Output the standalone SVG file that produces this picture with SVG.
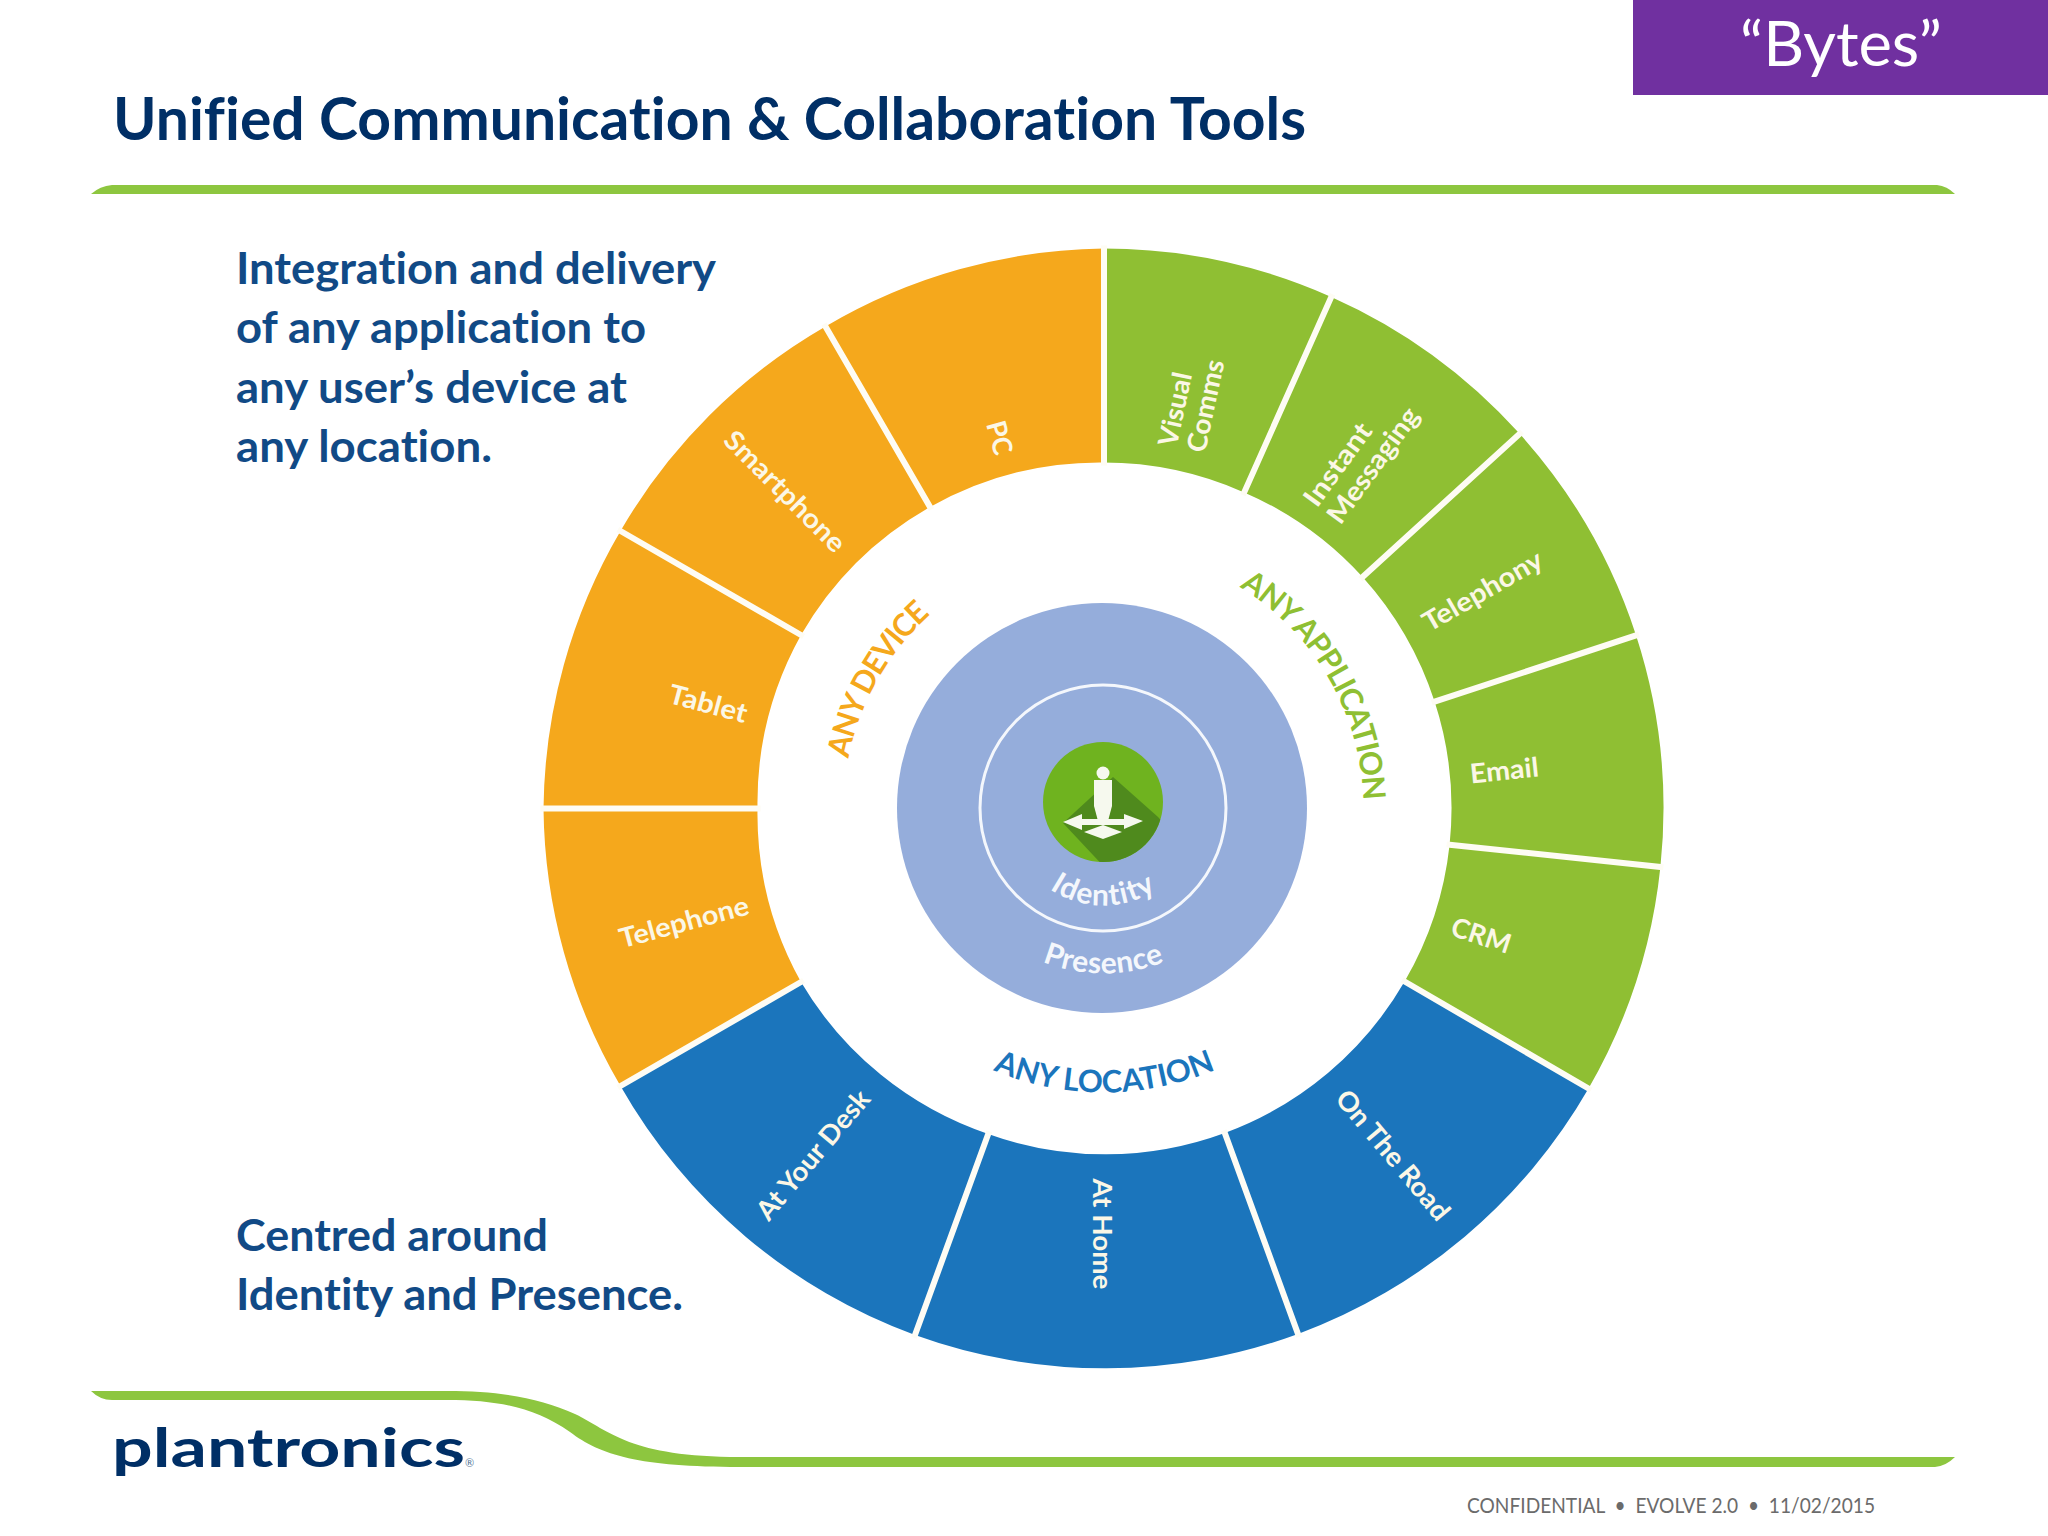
<svg xmlns="http://www.w3.org/2000/svg" width="2048" height="1536" viewBox="0 0 2048 1536">
<style>
text{font-family:Lato,"Noto Sans",sans-serif;font-variant-ligatures:none}
.o{fill:#F5A81C}.g{fill:#8FBF33}.b{fill:#1B75BC}
.sep{stroke:#FEFCF4;stroke-width:6;stroke-linecap:square;fill:none}
.seg{fill:#FBF7E6;font-size:27px;font-weight:700;dominant-baseline:central}
.body{fill:#114A86;font-size:44px;font-weight:700}
.arc{font-size:31px;font-weight:700}
.ctr{fill:#F4F7FC;font-size:30px;font-weight:700}
.bar{fill:#8DC63F}
</style>
<defs>
<path id="arcTop" d="M843.5 808.5A260 260 0 0 1 1363.5 808.5"/>
<path id="arcLoc" d="M819.5 808.5A284 284 0 0 0 1387.5 808.5"/>
<path id="arcId" d="M1006.5 808.5A97 97 0 0 0 1200.5 808.5"/>
<path id="arcPr" d="M938.5 808.5A165 165 0 0 0 1268.5 808.5"/>
<clipPath id="badge"><circle cx="1103" cy="802" r="60"/></clipPath>
</defs>
<rect width="2048" height="1536" fill="#fff"/>

<g id="header">
<rect x="1633" y="0" width="415" height="95" fill="#7030A0"/>
<text x="1841" y="66" text-anchor="middle" font-size="62" fill="#fff" textLength="202" lengthAdjust="spacingAndGlyphs">“Bytes”</text>
<text x="113" y="140" font-size="60" font-weight="700" fill="#002F66" textLength="1193" lengthAdjust="spacingAndGlyphs">Unified Communication &amp; Collaboration Tools</text>
<path class="bar" d="M91 194Q100 186 112 185H1937Q1947 186 1955 194Z"/>
</g>

<g id="intro-text">
<text class="body" x="236" y="284" textLength="480" lengthAdjust="spacingAndGlyphs">Integration and delivery</text>
<text class="body" x="236" y="343" textLength="410" lengthAdjust="spacingAndGlyphs">of any application to</text>
<text class="body" x="236" y="403" textLength="391" lengthAdjust="spacingAndGlyphs">any user’s device at</text>
<text class="body" x="236" y="462" textLength="256" lengthAdjust="spacingAndGlyphs">any location.</text>
<text class="body" x="236" y="1251" textLength="312" lengthAdjust="spacingAndGlyphs">Centred around</text>
<text class="body" x="236" y="1310" textLength="447" lengthAdjust="spacingAndGlyphs">Identity and Presence.</text>
</g>

<g id="ring">
<g id="seg-visual-comms"><path class="g" d="M1103.5 248.5A560 560 0 0 1 1331.3 296.9L1244.2 492.4A346 346 0 0 0 1103.5 462.5Z"/>
<g transform="translate(1103.5 808.5) rotate(-78)"><text class="seg" x="368" y="-14" textLength="75" lengthAdjust="spacingAndGlyphs">Visual</text><text class="seg" x="368" y="15" textLength="94" lengthAdjust="spacingAndGlyphs">Comms</text></g></g>
<g id="seg-instant-messaging"><path class="g" d="M1331.3 296.9A560 560 0 0 1 1519.7 433.8L1362.6 577A346 346 0 0 0 1244.2 492.4Z"/>
<g transform="translate(1103.5 808.5) rotate(-54)"><text class="seg" x="368" y="-14" textLength="96" lengthAdjust="spacingAndGlyphs">Instant</text><text class="seg" x="368" y="15" textLength="136" lengthAdjust="spacingAndGlyphs">Messaging</text></g></g>
<g id="seg-telephony"><path class="g" d="M1519.7 433.8A560 560 0 0 1 1636.1 635.4L1434.6 701.6A346 346 0 0 0 1362.6 577Z"/>
<text class="seg" transform="translate(1103.5 808.5) rotate(-30)" x="370" textLength="134" lengthAdjust="spacingAndGlyphs">Telephony</text></g>
<g id="seg-email"><path class="g" d="M1636.1 635.4A560 560 0 0 1 1660.4 867L1449.6 844.7A346 346 0 0 0 1434.6 701.6Z"/>
<text class="seg" transform="translate(1103.5 808.5) rotate(-6)" x="368" y="3" textLength="69" lengthAdjust="spacingAndGlyphs">Email</text></g>
<g id="seg-crm"><path class="g" d="M1660.4 867A560 560 0 0 1 1588.5 1088.5L1404.6 981.5A346 346 0 0 0 1449.6 844.7Z"/>
<text class="seg" transform="translate(1103.5 808.5) rotate(18)" x="368" y="3" textLength="61" lengthAdjust="spacingAndGlyphs">CRM</text></g>
<g id="seg-on-the-road"><path class="b" d="M1588.5 1088.5A560 560 0 0 1 1298 1334L1224.8 1133A346 346 0 0 0 1404.6 981.5Z"/>
<text class="seg" transform="translate(1103.5 808.5) rotate(50)" x="371" textLength="161" lengthAdjust="spacingAndGlyphs">On The Road</text></g>
<g id="seg-at-home"><path class="b" d="M1298 1334A560 560 0 0 1 915 1335L988.2 1134A346 346 0 0 0 1224.8 1133Z"/>
<text class="seg" transform="translate(1103.5 808.5) rotate(90)" x="370" textLength="111" lengthAdjust="spacingAndGlyphs">At Home</text></g>
<g id="seg-at-your-desk"><path class="b" d="M915 1335A560 560 0 0 1 620.5 1086L801 982A346 346 0 0 0 988.2 1134Z"/>
<text class="seg" transform="translate(1103.5 808.5) rotate(-50)" x="-372" y="-1" text-anchor="end" textLength="160" lengthAdjust="spacingAndGlyphs">At Your Desk</text></g>
<g id="seg-telephone"><path class="o" d="M620.5 1086A560 560 0 0 1 543.5 808.5L757.5 808.5A346 346 0 0 0 801 982Z"/>
<text class="seg" transform="translate(1103.5 808.5) rotate(-15)" x="-368" text-anchor="end" textLength="133" lengthAdjust="spacingAndGlyphs">Telephone</text></g>
<g id="seg-tablet"><path class="o" d="M543.5 808.5A560 560 0 0 1 620.5 531L801 635A346 346 0 0 0 757.5 808.5Z"/>
<text class="seg" transform="translate(1103.5 808.5) rotate(15)" x="-369" text-anchor="end" textLength="80" lengthAdjust="spacingAndGlyphs">Tablet</text></g>
<g id="seg-smartphone"><path class="o" d="M620.5 531A560 560 0 0 1 825.5 326.5L930 507A346 346 0 0 0 801 635Z"/>
<text class="seg" transform="translate(1103.5 808.5) rotate(45)" x="-370" text-anchor="end" textLength="159" lengthAdjust="spacingAndGlyphs">Smartphone</text></g>
<g id="seg-pc"><path class="o" d="M825.5 326.5A560 560 0 0 1 1103.5 248.5L1103.5 462.5A346 346 0 0 0 930 507Z"/>
<text class="seg" transform="translate(1103.5 808.5) rotate(74.5)" x="-368" text-anchor="end" textLength="34" lengthAdjust="spacingAndGlyphs">PC</text></g>
</g>

<g id="connectors">
<path class="sep" d="M1104 248.5V462.5M1331.3 296.9L1244.2 492.4M1519.7 433.8L1362.6 577M1636.1 635.4L1434.6 701.6M1660.4 867L1449.6 844.7M1588.5 1088.5L1404.6 981.5M1298 1334L1224.8 1133M915 1335L988.2 1134M620.5 1086L801 982M543.5 808.5H757.5M620.5 531L801 635M825.5 326.5L930 507"/>
</g>

<g id="arc-labels">
<text class="arc" fill="#F5A81C" text-anchor="middle" letter-spacing="-1.5"><textPath href="#arcTop" startOffset="16.4%">ANY DEVICE</textPath></text>
<text class="arc" fill="#8FBF33" text-anchor="middle" letter-spacing="-1.1"><textPath href="#arcTop" startOffset="83.2%">ANY APPLICATION</textPath></text>
<text class="arc" fill="#1B75BC" text-anchor="middle"><textPath href="#arcLoc" startOffset="50.1%">ANY LOCATION</textPath></text>
</g>

<g id="presence">
<circle cx="1102" cy="808" r="205" fill="#95ADDB"/>
<circle cx="1103" cy="808" r="123" fill="none" stroke="#F4F7FC" stroke-width="3"/>
<text class="ctr" text-anchor="middle" letter-spacing="0.5"><textPath href="#arcPr" startOffset="50%">Presence</textPath></text>
</g>

<g id="identity">
<circle cx="1103" cy="802" r="60" fill="#6FB31F"/>
<path clip-path="url(#badge)" fill="#4F8A1D" d="M1113 777L1158 817L1170 830L1120 880L1108 871L1063 823Z"/>
<g fill="#F6F9EE">
<circle cx="1103" cy="773" r="6.5"/>
<path d="M1094 780L1112 780L1112 806L1108 821H1098L1094 806Z"/>
<path d="M1063 822L1082 814V819H1124V814L1143 821L1124 829V825H1082V830Z"/>
<path d="M1084 832L1103 825L1122 832L1103 839Z"/>
</g>
<text class="ctr" text-anchor="middle" letter-spacing="1.3"><textPath href="#arcId" startOffset="50%">Identity</textPath></text>
</g>

<g id="footer">
<path class="bar" d="M91 1391H447C500 1391 540 1398 575 1414C610 1431 630 1457 740 1457H1955Q1946 1466 1935 1467H740C640 1467 600 1455 570 1432C535 1408 500 1400 447 1400H112Q100 1400 91 1391Z"/>
<text x="112" y="1467" font-family="DejaVu Sans" font-size="54" font-weight="700" fill="#002F66" textLength="353" lengthAdjust="spacingAndGlyphs">plantronics</text>
<text x="465" y="1467" font-size="11" fill="#5A7A9A">®</text>
<text x="1467" y="1513" font-size="21" fill="#6B6B6B" style="white-space:pre" textLength="408" lengthAdjust="spacingAndGlyphs">CONFIDENTIAL  •  EVOLVE 2.0  •  11/02/2015</text>
</g>
</svg>
